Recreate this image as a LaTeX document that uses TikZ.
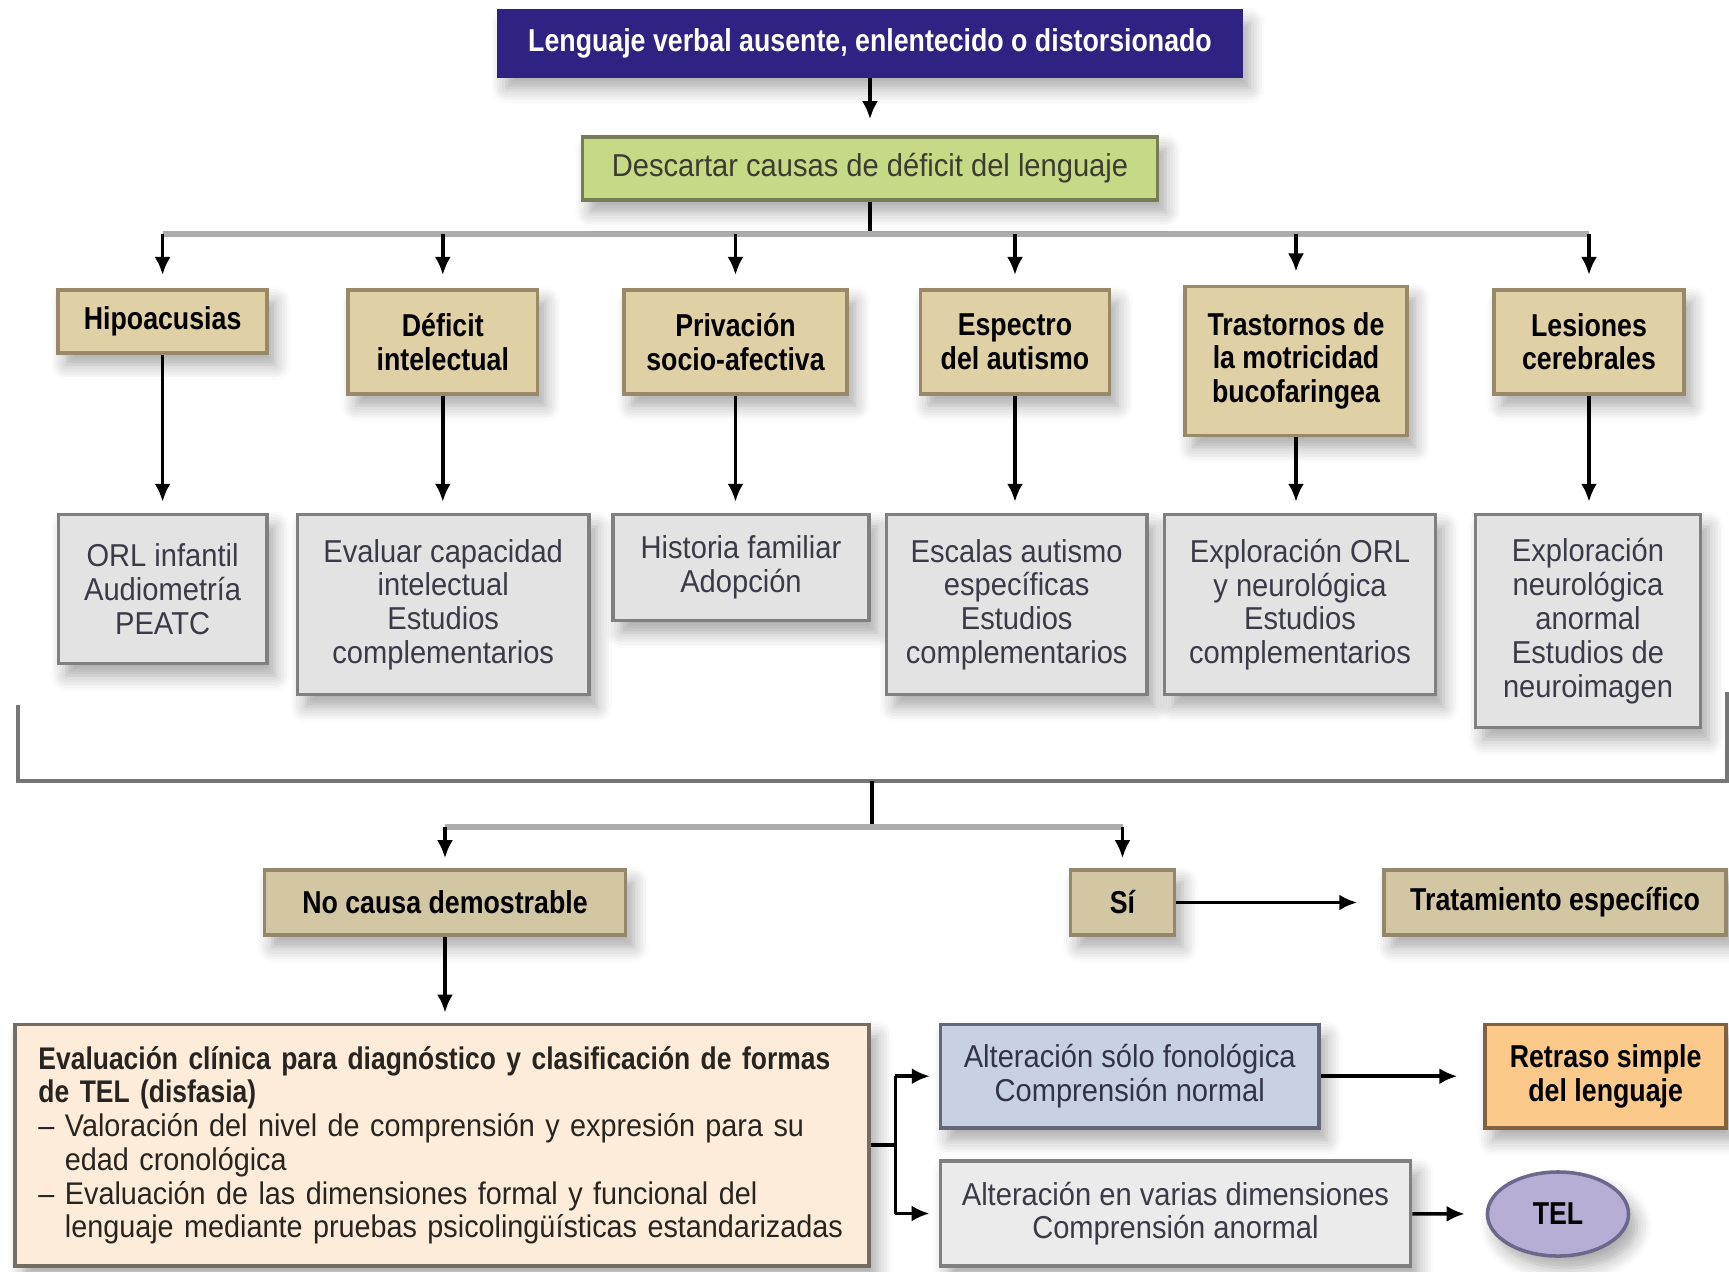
\documentclass[tikz,border=0pt]{standalone}
\usepackage{fontspec}
\setmainfont{Liberation Sans}[FakeStretch=0.92,BoldFeatures={FakeStretch=0.845}]
\usepackage{xcolor}
\usepackage{tikz}
\usetikzlibrary{arrows.meta,shapes.geometric,shadows.blur,positioning}

\newcommand\chartfont{\fontsize{9}{9.6}\selectfont}

\definecolor{titleblue}{RGB}{46,35,130}
\definecolor{descgreen}{RGB}{197,217,134}
\definecolor{descedge}{RGB}{118,124,84}
\definecolor{causetan}{RGB}{224,208,165}
\definecolor{causeedge}{RGB}{152,138,104}
\definecolor{testgray}{RGB}{227,227,227}
\definecolor{testedge}{RGB}{128,128,128}
\definecolor{testtext}{RGB}{58,58,72}
\definecolor{resulttan}{RGB}{211,198,162}
\definecolor{resultedge}{RGB}{148,136,108}
\definecolor{evalcream}{RGB}{253,236,218}
\definecolor{evaledge}{RGB}{118,108,98}
\definecolor{fonoblue}{RGB}{200,208,227}
\definecolor{fonoedge}{RGB}{98,104,120}
\definecolor{variasgray}{RGB}{235,235,235}
\definecolor{retrasoorange}{RGB}{251,201,138}
\definecolor{retrasoedge}{RGB}{128,98,64}
\definecolor{tellilac}{RGB}{183,174,214}
\definecolor{teledge}{RGB}{108,104,140}
\definecolor{branchgray}{RGB}{172,172,172}
\definecolor{bracketgray}{RGB}{118,118,118}

\begin{document}
\begin{tikzpicture}[x=0.01cm, y=-0.01cm,
    >={Latex[length=1.8mm,width=1.6mm]},
    box/.style={draw, line width=1pt, inner sep=0pt, align=center, font=\chartfont,
        blur shadow={shadow xshift=0.8mm, shadow yshift=-1.2mm,
            shadow blur radius=1.5mm, shadow opacity=35, shadow blur steps=6}},
    title/.style={box, fill=titleblue, draw=titleblue, text=white, font=\chartfont\bfseries},
    descarte/.style={box, fill=descgreen, draw=descedge, text={rgb,255:red,60;green,60;blue,48}},
    cause/.style={box, fill=causetan, draw=causeedge, font=\chartfont\bfseries,
        minimum height=1.04cm, anchor=north},
    test/.style={box, fill=testgray, draw=testedge, text=testtext, anchor=north},
    result/.style={box, fill=resulttan, draw=resultedge, font=\chartfont\bfseries,
        minimum height=0.65cm},
    link/.style={line width=1pt, black},
    branch/.style={line width=1.6pt, branchgray},
    bracket/.style={line width=1.1pt, bracketgray}]

    \useasboundingbox (0,0) rectangle (1729,1272);

    \node[title, minimum width=7.43cm, minimum height=0.65cm] (lenguaje) at (870,43.5)
        {Lenguaje verbal ausente, enlentecido o distorsionado};
    \node[descarte, minimum width=5.75cm, minimum height=0.63cm] (descartar) at (870,168.5)
        {Descartar causas de déficit del lenguaje};

    \node[cause, minimum width=2.09cm, minimum height=0.63cm] (hipo) at (162.6,288) {Hipoacusias};
    \node[cause, minimum width=1.89cm] (intel) at (442.8,288) {Déficit\\intelectual};
    \node[cause, minimum width=2.23cm] (privacion) at (735.5,288) {Privación\\socio-afectiva};
    \node[cause, minimum width=1.89cm] (autismo) at (1015,288) {Espectro\\del autismo};
    \node[cause, minimum width=2.22cm, minimum height=1.49cm] (motricidad) at (1296,284.5)
        {Trastornos de\\la motricidad\\bucofaringea};
    \node[cause, minimum width=1.90cm] (lesiones) at (1589,288) {Lesiones\\cerebrales};

    \node[test, minimum width=2.085cm, minimum height=1.49cm] (orl) at (162.6,512.8)
        {ORL infantil\\Audiometría\\PEATC};
    \node[test, minimum width=2.91cm, minimum height=1.80cm] (capacidad) at (443.2,512.8)
        {Evaluar capacidad\\intelectual\\Estudios\\complementarios};
    \node[test, minimum width=2.56cm, minimum height=1.06cm] (historia) at (741,512.8)
        {Historia familiar\\Adopción};
    \node[test, minimum width=2.60cm, minimum height=1.80cm] (escalas) at (1016.7,512.8)
        {Escalas autismo\\específicas\\Estudios\\complementarios};
    \node[test, minimum width=2.71cm, minimum height=1.80cm] (exploracion) at (1300,512.8)
        {Exploración ORL\\y neurológica\\Estudios\\complementarios};
    \node[test, minimum width=2.25cm, minimum height=2.13cm] (neuro) at (1588,512.8)
        {Exploración\\neurológica\\anormal\\Estudios de\\neuroimagen};

    \node[result, minimum width=3.61cm] (nocausa) at (445,902.5) {No causa demostrable};
    \node[result, minimum width=1.04cm] (si) at (1122.5,902.5) {Sí};
    \node[result, minimum width=3.42cm, anchor=east] (tratamiento) at (1728,902.5)
        {Tratamiento específico};

    \node[box, fill=evalcream, draw=evaledge, text={rgb,255:red,40;green,36;blue,32},
        font=\fontsize{8.9}{9.6}\selectfont,
        minimum width=8.535cm, minimum height=2.415cm, text width=8.07cm, align=left]
        (evaluacion) at (442.2,1145.2)
        {\textbf{Evaluación clínica para diagnóstico y clasificación de formas}\\
         \textbf{de TEL (disfasia)}\\
         – Valoración del nivel de comprensión y expresión para su\\
         \hphantom{– }edad cronológica\\
         – Evaluación de las dimensiones formal y funcional del\\
         \hphantom{– }lenguaje mediante pruebas psicolingüísticas estandarizadas};

    \node[box, fill=fonoblue, draw=fonoedge, text={rgb,255:red,50;green,52;blue,70},
        minimum width=3.78cm, minimum height=1.036cm] (fono) at (1129.7,1076.2)
        {Alteración sólo fonológica\\Comprensión normal};
    \node[box, fill=variasgray, draw=testedge, text=testtext,
        minimum width=4.70cm, minimum height=1.05cm] (varias) at (1175.5,1213.5)
        {Alteración en varias dimensiones\\Comprensión anormal};
    \node[box, fill=retrasoorange, draw=retrasoedge, font=\chartfont\bfseries,
        minimum width=2.41cm, minimum height=1.036cm, anchor=east] (retraso) at (1728,1076.2)
        {Retraso simple\\del lenguaje};
    \node[box, ellipse, fill=tellilac, draw=teledge, font=\chartfont\bfseries,
        minimum width=1.41cm, minimum height=0.84cm] (tel) at (1558,1214) {TEL};

    \draw[link,->,shorten >=1.6mm] (lenguaje) -- (descartar);

    \coordinate (split) at (870,234);
    \draw[link] (descartar) -- (split);
    \draw[branch] (hipo |- split) -- (lesiones |- split);
    \foreach \n in {hipo,intel,privacion,autismo,motricidad,lesiones}
        \draw[link,->,shorten >=1.3mm] (\n |- split) -- (\n);

    \draw[link,->,shorten >=1.1mm] (hipo) -- (hipo |- orl.north);
    \draw[link,->,shorten >=1.1mm] (intel) -- (intel |- capacidad.north);
    \draw[link,->,shorten >=1.1mm] (privacion) -- (privacion |- historia.north);
    \draw[link,->,shorten >=1.1mm] (autismo) -- (autismo |- escalas.north);
    \draw[link,->,shorten >=1.1mm] (motricidad) -- (motricidad |- exploracion.north);
    \draw[link,->,shorten >=1.1mm] (lesiones) -- (lesiones |- neuro.north);

    \coordinate (bl) at (17.6,705);
    \coordinate (bc) at (872,781);
    \coordinate (br) at (1727,692);
    \draw[bracket] (bl) -- (bl |- bc) -- (br |- bc) -- (br);

    \coordinate (join) at (872,827);
    \draw[link] (bc) -- (join);
    \draw[branch] (nocausa |- join) -- (si |- join);
    \draw[link,->,shorten >=1mm] (nocausa |- join) -- (nocausa);
    \draw[link,->,shorten >=1mm] (si |- join) -- (si);
    \draw[link,->,shorten >=2.5mm] (si) -- (tratamiento);

    \draw[link,->,shorten >=1mm] (nocausa) -- (nocausa |- evaluacion.north);

    \coordinate (fork) at (895.4,1145.2);
    \draw[link] (evaluacion.east) -- (fork);
    \draw[link] (fork |- fono) -- (fork |- varias);
    \draw[link,->,shorten >=0.9mm] (fork |- fono) -- (fono);
    \draw[link,->,shorten >=0.9mm] (fork |- varias) -- (varias);
    \draw[link,->,shorten >=2.6mm] (fono) -- (retraso);
    \draw[link,->,shorten >=2.1mm] (varias) -- (tel);
\end{tikzpicture}
\end{document}
